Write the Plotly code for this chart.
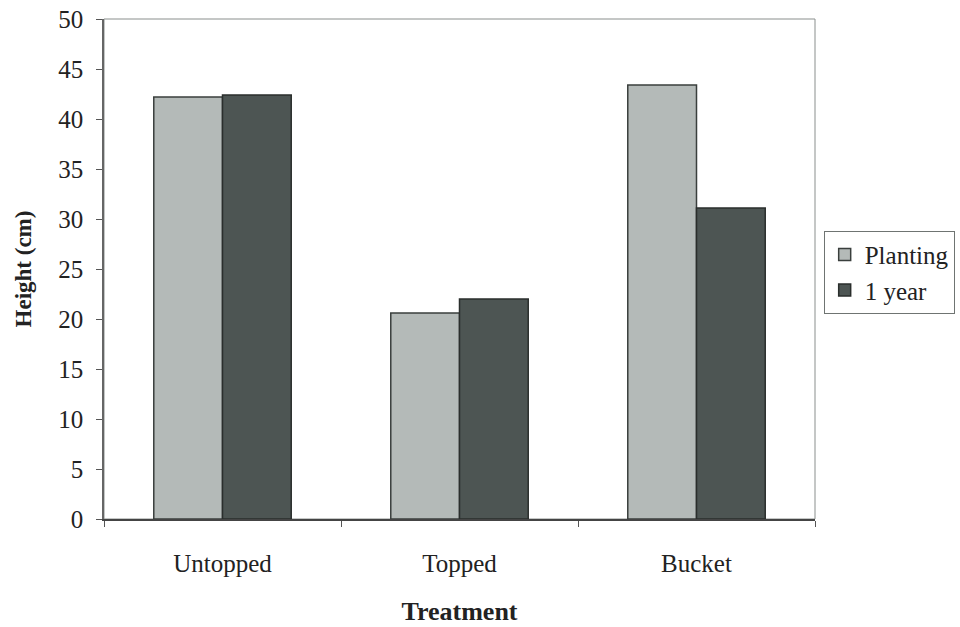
import plotly.graph_objects as go

# Mean seedling height by treatment, at planting and after one year
treatments = ["Untopped", "Topped", "Bucket"]
height_planting = [42.2, 20.6, 43.4]
height_1year = [42.4, 22.0, 31.1]
y_ticks = [0, 5, 10, 15, 20, 25, 30, 35, 40, 45, 50]

FONT = "Liberation Serif, Times New Roman, serif"

fig = go.Figure()
fig.add_trace(go.Bar(
    x=treatments, y=height_planting, name="Planting",
    marker=dict(color="#b4bab8", line=dict(color="#3a3f3d", width=1.5)),
))
fig.add_trace(go.Bar(
    x=treatments, y=height_1year, name="1 year",
    marker=dict(color="#4d5553", line=dict(color="#2a2e2c", width=1.5)),
))

# light frame around the plotting area
fig.add_shape(type="rect", xref="paper", yref="paper", x0=0, y0=0, x1=1, y1=1,
              line=dict(color="#8a8f8d", width=1), layer="below")

fig.update_layout(
    width=960, height=627,
    margin=dict(l=104, r=145, t=19, b=108, autoexpand=False),
    paper_bgcolor="white", plot_bgcolor="white",
    barmode="group", bargap=0.42, bargroupgap=0,
    font=dict(family=FONT, size=25, color="#222222"),
    showlegend=True,
    legend=dict(
        xref="container", yref="container",
        x=0.858, y=0.632, xanchor="left", yanchor="top",
        bordercolor="#6f7472", borderwidth=1,
        font=dict(family=FONT, size=25, color="#222222"),
        tracegroupgap=0, itemwidth=30,
    ),
    xaxis=dict(
        title=dict(text="<b>Treatment</b>", font=dict(family=FONT, size=26), standoff=26),
        showline=True, linecolor="#444444", linewidth=1.5,
        ticks="outside", tickson="boundaries", ticklen=6, tickcolor="#555555",
        tickfont=dict(family=FONT, size=25), ticklabelstandoff=21,
        showgrid=False, automargin=False,
    ),
    yaxis=dict(
        title=dict(text="<b>Height (cm)</b>", font=dict(family=FONT, size=23), standoff=20),
        range=[0, 50], tickvals=y_ticks,
        showline=True, linecolor="#666666", linewidth=1.5,
        ticks="outside", ticklen=6, tickcolor="#555555",
        tickfont=dict(family=FONT, size=25), ticklabelstandoff=8,
        showgrid=False, zeroline=False, automargin=False,
    ),
)

fig.write_html("out.html")
